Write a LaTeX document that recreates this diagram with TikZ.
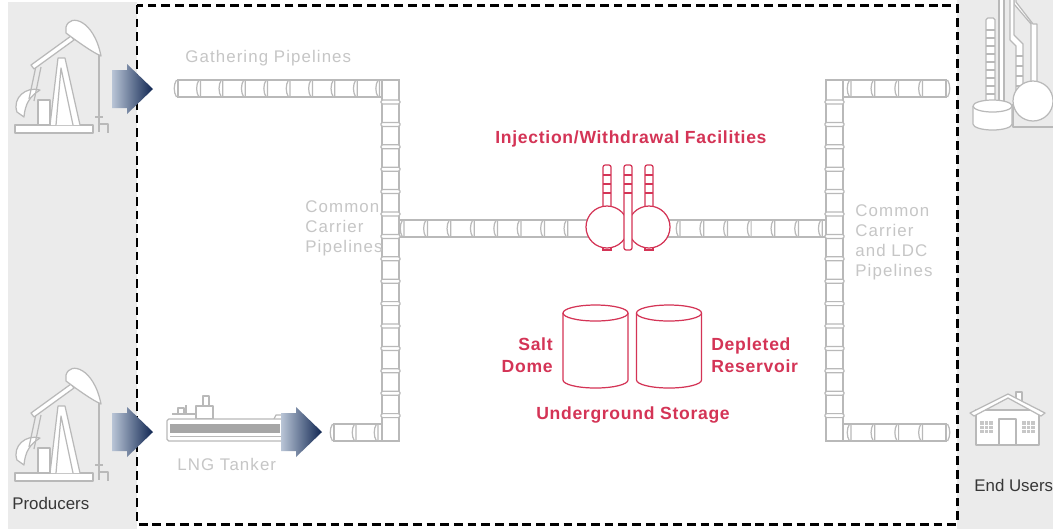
\documentclass[tikz,border=0pt]{standalone}
\usepackage{fontspec}
\setmainfont{Liberation Sans}
\newfontfamily\pipefont{Liberation Sans}[LetterSpace=6.5]
\newfontfamily\storefont{Liberation Sans}[LetterSpace=4]
\definecolor{pipegray}{RGB}{185,185,185}
\definecolor{labelgray}{RGB}{198,198,198}
\definecolor{panelgray}{RGB}{235,235,235}
\definecolor{storered}{RGB}{212,52,86}
\definecolor{arrowlight}{RGB}{185,197,214}
\definecolor{arrownavy}{RGB}{16,38,82}
\definecolor{textdark}{RGB}{55,55,55}
\usetikzlibrary{positioning}

% flange on a horizontal pipe (x, centre y)
\newcommand{\hjoint}[2]{%
  \draw[pipe] (#1,#2-8.5) -- (#1,#2+8.5)
    (#1-1.5,#2-8.5) .. controls (#1-4.5,#2-4) and (#1-4.5,#2+4) .. (#1-1.5,#2+8.5);}
% closed right end of a horizontal pipe
\newcommand{\hcap}[2]{%
  \draw[pipe] (#1,#2-8.5) -- (#1,#2+8.5)
    (#1+1.5,#2-8.5) .. controls (#1+4.5,#2-4) and (#1+4.5,#2+4) .. (#1+1.5,#2+8.5);}
% band on a vertical pipe (centre x, y)
\newcommand{\vjoint}[2]{%
  \draw[pipe,rounded corners=0.8pt] (#1-9.5,#2) rectangle (#1+9.5,#2+4);}
% shaded block arrow (tail x, centre y)
\newcommand{\flowarrow}[2]{%
  \shade[left color=arrowlight,right color=arrownavy]
    (#1,#2-19) -- (#1+15,#2-19) -- (#1+15,#2-25) -- (#1+41,#2)
    -- (#1+15,#2+25) -- (#1+15,#2+19) -- (#1,#2+19) -- cycle;}
% pump jack drawn at the top left
\newcommand{\pumpjack}{%
  \draw[icon] (15,125) rectangle (93,133);
  \draw[icon] (50,125) -- (58,58) -- (65,58) -- (80,125);
  \draw[icon] (56,125) -- (61,68) -- (73,125);
  \draw[icon] (38,100) rectangle (50,125);
  \draw[icon] (17,112) .. controls (12,98) and (26,86) .. (40,90)
    .. controls (30,96) and (25,104) .. (24,117) -- cycle;
  \draw[icon] (29,99) -- (36,66) (34,101) -- (41,67);
  \draw[icon] (31,65) -- (71,36) -- (74,40) -- (34,69) -- cycle;
  \draw[icon] (66,27) .. controls (70,13) and (94,20) .. (101,56)
    .. controls (92,52) and (78,42) .. (66,33) -- cycle;
  \draw[icon] (99,55) -- (99,132);
  \draw[icon] (95,117) -- (103,117);
  \draw[icon,fill=none] (99,124) -- (108,124) -- (108,133);}

\begin{document}
\begin{tikzpicture}[x=0.02cm,y=-0.02cm,
  pipe/.style={draw=pipegray,line width=0.7pt,fill=white},
  icon/.style={draw=pipegray,line width=0.7pt,fill=white,line join=round},
  redline/.style={draw=storered,line width=0.7pt,fill=white},
  greylabel/.style={font=\pipefont\fontsize{9.6}{11.4}\selectfont,text=labelgray,
                    inner sep=0pt,align=left},
  redlabel/.style={font=\storefont\bfseries\fontsize{10}{13}\selectfont,text=storered,
                   inner sep=0pt},
  sidelabel/.style={font=\fontsize{9.6}{11.4}\selectfont,text=textdark,inner sep=0pt},
  border/.style={line width=1.7pt,dash pattern=on 5pt off 2.8pt},
]
  \useasboundingbox (0,0) rectangle (1053,529);
  \fill[white] (0,0) rectangle (1053,529);
  \fill[panelgray] (8,2) rectangle (137,529);
  \fill[panelgray] (957,0) rectangle (1053,529);

  % Producers
  \pumpjack
  \begin{scope}[shift={(0,348)}]
    \pumpjack
  \end{scope}
  \node[sidelabel,anchor=base west] (producers) at (12,509) {Producers};

  % LNG tanker
  \draw[icon] (172,414) -- (195,414) (186,405) -- (186,414);
  \draw[icon] (178,408) rectangle (184,414);
  \draw[icon] (203,396) rectangle (209,406);
  \draw[icon] (196,406) rectangle (213,419);
  \draw[icon] (274,419) -- (276,415) -- (286,415) -- (288,419);
  \draw[icon,rounded corners=1pt] (167,419) rectangle (288,441);
  \fill[gray!70] (170,424) rectangle (280,433);
  \draw[pipegray,line width=0.5pt] (170,436) -- (284,436);
  \node[greylabel,anchor=base west] (lng) at (177,470) {LNG Tanker};

  % End users: refinery
  \draw[icon] (999,-5) rectangle (1004,104);
  \draw[icon,rounded corners=1pt] (986,104) -- (986,18) -- (995,18) -- (995,104);
  \foreach \y in {30,38,...,96} \draw[icon] (986,\y) -- (995,\y);
  \draw[icon] (1014,-5) -- (1014,4) -- (1031,24) -- (1031,85) -- (1037,85) -- (1037,24)
    -- (1033,24) -- (1016,2) -- (1016,-5);
  \draw[icon] (1010,-5) -- (1010,40) -- (1016,46) -- (1016,96) -- (1023,96) -- (1023,44)
    -- (1014,35) -- (1014,-5);
  \foreach \y in {56,66,76,86} \draw[icon] (1016,\y) -- (1023,\y);
  \draw[icon,fill=none] (1013,104) -- (1013,127) -- (1055,127);
  \draw[icon] (1033,101) circle (20);
  \draw[icon] (973,106) -- (973,124) arc[start angle=180,end angle=0,x radius=19.5,y radius=6]
    -- (1012,106);
  \draw[icon] (992.5,106) ellipse [x radius=19.5,y radius=6];

  % End users: house
  \draw[icon] (1016,392) rectangle (1022,402);
  \draw[icon] (976,410) rectangle (1039,445);
  \draw[icon] (970,413) -- (1008,394) -- (1045,413) -- (1041,416) -- (1008,398)
    -- (974,416) -- cycle;
  \draw[icon] (999,419) rectangle (1016,445);
  \foreach \wx in {980,1022} {
    \fill[pipegray!80] (\wx,421) rectangle (\wx+13,433);
    \draw[white,line width=0.4pt] (\wx+4.3,421) -- (\wx+4.3,433) (\wx+8.6,421) -- (\wx+8.6,433)
      (\wx,425) -- (\wx+13,425) (\wx,429) -- (\wx+13,429);
  }
  \node[sidelabel,anchor=base west] (endusers) at (974,491) {End Users};

  % Dashed system boundary
  \draw[border] (137,5) rectangle (957,524);

  % Gathering pipelines
  \draw[pipe] (178,80) rectangle (382,97);
  \foreach \x in {178,200.4,...,381} \hjoint{\x}{88.5};
  \draw[pipe] (334,424) rectangle (382,441);
  \foreach \x in {334,356,378} \hjoint{\x}{432.5};
  \node[greylabel,anchor=base west] (gathering) at (185,62) {Gathering Pipelines};

  % Common carrier line to storage
  \draw[pipe] (399,220) rectangle (590,237);
  \foreach \x in {404,427.4,...,570} \hjoint{\x}{228.5};
  \draw[pipe] (665,220) rectangle (826,237);
  \foreach \x in {680,703.7,...,823} \hjoint{\x}{228.5};
  \draw[pipe] (382,80) rectangle (399,441);
  \foreach \y in {100,122.4,...,415} \vjoint{390.5}{\y};
  \node[greylabel,anchor=north west] (carrierleft) at (305,200) {Common\\Carrier\\Pipelines};

  % Carrier and LDC lines
  \draw[pipe] (843,80) rectangle (946,97);
  \foreach \x in {851,874.8,...,925} \hjoint{\x}{88.5};
  \hcap{946}{88.5}
  \draw[pipe] (843,424) rectangle (946,441);
  \foreach \x in {851,874.8,...,925} \hjoint{\x}{432.5};
  \hcap{946}{432.5}
  \draw[pipe] (826,80) rectangle (843,441);
  \foreach \y in {100,122.4,...,415} \vjoint{834.5}{\y};
  \node[greylabel,anchor=north west] (carrierright) at (855,204)
    {Common\\Carrier\\and LDC\\Pipelines};

  % Injection/withdrawal facilities
  \foreach \tx in {603,645} {
    \draw[redline,rounded corners=1.2pt] (\tx,165) rectangle (\tx+8,210);
    \draw[redline] (\tx,242) rectangle (\tx+8,250);
    \foreach \y in {175,184,193} \draw[storered,line width=0.7pt] (\tx,\y) -- (\tx+8,\y);
  }
  \draw[redline] (607,227) circle (21);
  \draw[redline] (649,227) circle (21);
  \draw[redline,rounded corners=1.2pt] (624,165) rectangle (632,250);
  \foreach \y in {175,184,193} \draw[storered,line width=0.7pt] (624,\y) -- (632,\y);
  \node[redlabel,anchor=base west] (facilities) at (495,143)
    {Injection/Withdrawal Facilities};

  % Underground storage
  \foreach \cx in {595.5,669} {
    \draw[redline] (\cx-32.5,313) -- (\cx-32.5,380)
      arc[start angle=180,end angle=0,x radius=32.5,y radius=8] -- (\cx+32.5,313);
    \draw[redline] (\cx,313) ellipse [x radius=32.5,y radius=8];
  }
  \node[redlabel,anchor=north east,align=right] (salt) at (553,337) {Salt\\Dome};
  \node[redlabel,anchor=north west,align=left] (depleted) at (711,337) {Depleted\\Reservoir};
  \node[redlabel,anchor=base] (storage) at (633,419) {Underground Storage};

  % Flow arrows
  \flowarrow{112}{89}
  \flowarrow{112}{432}
  \flowarrow{281}{432}
\end{tikzpicture}
\end{document}
